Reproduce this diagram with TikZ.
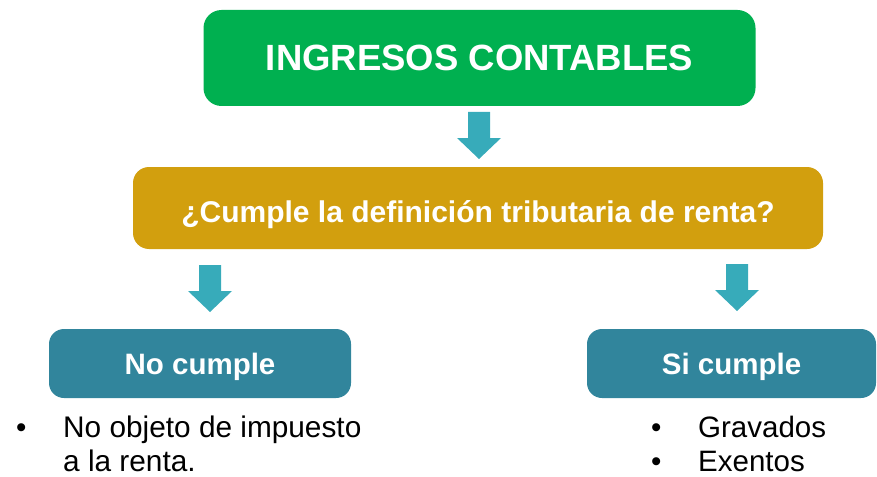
\documentclass[tikz,border=0pt]{standalone}
\usepackage{fontspec}
\setmainfont{Liberation Sans}
\definecolor{topgreen}{HTML}{00B050}
\definecolor{gold}{HTML}{D29F0E}
\definecolor{tealbox}{HTML}{31859C}
\definecolor{arrowc}{HTML}{37ABBA}
\tikzset{
  box/.style={rounded corners=#1, inner sep=0pt, text=white, text depth=0pt},
  txt/.style={inner sep=0pt, anchor=base west, text depth=0pt, font=\fontsize{29.5}{35}\selectfont},
  downarrow/.pic={\fill[arrowc] (-11,0) -- (11,0) -- (11,26) -- (22,26) -- (0,47) -- (-22,26) -- (-11,26) -- cycle;}
}
\begin{document}
\begin{tikzpicture}[x=1pt,y=-1pt]
\useasboundingbox (0,0) rectangle (877,476);
\node[box=18pt, fill=topgreen, minimum width=552pt, minimum height=96pt, text height=26pt, font=\bfseries\fontsize{36.5}{40}\selectfont] (top) at (479.5,58) {INGRESOS CONTABLES};
\node[box=16pt, fill=gold, minimum width=690pt, minimum height=82pt, text height=21.5pt, font=\bfseries\fontsize{30}{34}\selectfont] (q) at (478,208) {\raisebox{-3.5pt}{¿Cumple la definición tributaria de renta?}};
\node[box=15pt, fill=tealbox, minimum width=302pt, minimum height=69pt, text height=21.1pt, font=\bfseries\fontsize{29.5}{34}\selectfont] (no) at (200,363.5) {No cumple};
\node[box=15pt, fill=tealbox, minimum width=289pt, minimum height=69pt, text height=21.1pt, font=\bfseries\fontsize{29.5}{34}\selectfont] (si) at (731.5,363.5) {Si cumple};
\pic at (479,112) {downarrow};
\pic at (210,265) {downarrow};
\pic at (737,264) {downarrow};
\node[txt] (b1) at (16,437) {•};
\node[txt, font=\fontsize{29.8}{35}\selectfont] (t1) at (63,437) {No objeto de impuesto};
\node[txt, font=\fontsize{29.8}{35}\selectfont] (t2) at (63,471.5) {a la renta.};
\node[txt] (b2) at (651,437) {•};
\node[txt] (t3) at (698,437) {Gravados};
\node[txt] (b3) at (651,471.5) {•};
\node[txt] (t4) at (698,471.5) {Exentos};
\end{tikzpicture}
\end{document}
